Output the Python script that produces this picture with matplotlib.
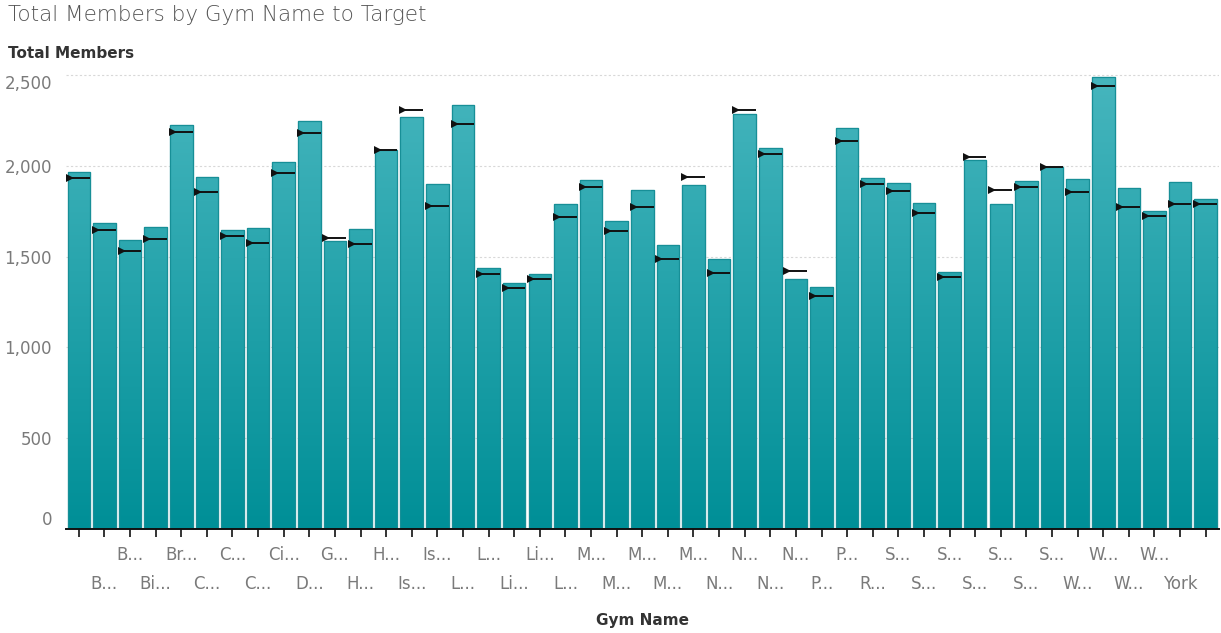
import numpy as np
import matplotlib
matplotlib.use("Agg")
import matplotlib.pyplot as plt
from matplotlib.colors import LinearSegmentedColormap

labels = ["", "B...", "B...", "Bi...", "Br...", "C...", "C...", "C...", "Ci...", "D...",
          "G...", "H...", "H...", "Is...", "Is...", "L...", "L...", "Li...", "Li...", "L...",
          "M...", "M...", "M...", "M...", "M...", "N...", "N...", "N...", "N...", "P...",
          "P...", "R...", "S...", "S...", "S...", "S...", "S...", "S...", "S...", "W...",
          "W...", "W...", "W...", "York", ""]
members = [1968, 1688, 1592, 1666, 2226, 1938, 1647, 1658, 2022, 2250,
           1587, 1653, 2088, 2272, 1899, 2336, 1440, 1357, 1407, 1788,
           1921, 1699, 1870, 1563, 1896, 1486, 2287, 2101, 1376, 1335,
           2211, 1936, 1905, 1796, 1418, 2033, 1788, 1919, 1996, 1928,
           2492, 1880, 1752, 1914, 1818]
targets = [1932, 1647, 1532, 1598, 2186, 1859, 1616, 1578, 1963, 2180,
           1603, 1572, 2090, 2309, 1781, 2230, 1407, 1326, 1377, 1717,
           1886, 1642, 1776, 1486, 1939, 1409, 2310, 2066, 1421, 1284,
           2138, 1901, 1864, 1739, 1390, 2050, 1868, 1886, 1996, 1859,
           2442, 1772, 1726, 1791, 1791]
yticks = [0, 500, 1000, 1500, 2000, 2500]
ytick_labels = ["0", "500", "1,000", "1,500", "2,000", "2,500"]

W, H = 1221, 633
fig = plt.figure(figsize=(W / 100, H / 100), dpi=100)
ax = fig.add_axes([66 / W, 1 - 529 / H, (1218.5 - 66) / W, (529 - 71.5) / H])

x = np.arange(len(members))
ymax = 2520
bw = 0.88
bars = ax.bar(x, members, width=bw, color="#1fa2aa", edgecolor="#178f97",
              linewidth=0.8, zorder=2)

cmap = LinearSegmentedColormap.from_list("teal", ["#008f97", "#47b6be"])
grad = np.linspace(0, 1, 256).reshape(-1, 1)
for b in bars:
    x0 = b.get_x()
    im = ax.imshow(grad, cmap=cmap, aspect="auto", origin="lower",
                   extent=(x0, x0 + b.get_width(), 0, ymax), zorder=2.1,
                   vmin=0, vmax=1, interpolation="bilinear")
    im.set_clip_path(b)
    ax.bar(b.get_x() + b.get_width() / 2, b.get_height(), width=b.get_width(),
           fill=False, edgecolor="#178f97", linewidth=0.9, zorder=2.2)

# targets
ax.hlines(targets, x - bw / 2, x + bw / 2, color="#111111", linewidth=1.4, zorder=3)
ax.plot(x - bw / 2 + 0.11, targets, linestyle="none", marker=">", markersize=5.5,
        color="#111111", markeredgewidth=0, zorder=3.1)

ax.set_xlim(-0.5, len(members) - 0.5)
ax.set_ylim(0, ymax)

for yv in yticks[1:]:
    ax.axhline(yv, color="#d8d8d8", linewidth=0.8, linestyle=(0, (2, 2)), zorder=1)

for s in ["top", "right", "left"]:
    ax.spines[s].set_visible(False)
ax.spines["bottom"].set_color("#111111")
ax.spines["bottom"].set_linewidth(1.4)
ax.spines["bottom"].set_zorder(4)

ax.set_yticks(yticks)
ax.set_yticklabels(ytick_labels)
ax.tick_params(axis="y", length=0, pad=10, labelsize=12, labelcolor="#7a7a7a")
tl = ax.get_yticklabels()
tl[0].set_va("bottom")
tl[-1].set_va("top")

ax.set_xticks(x)
xt = [lab if i % 2 == 1 else "" for i, lab in enumerate(labels)]
ax.set_xticklabels(xt)
ax.tick_params(axis="x", length=6, width=1.2, color="#111111", pad=4,
               labelsize=12, labelcolor="#7a7a7a")
for i, lab in enumerate(labels):
    if i % 2 == 0 and lab:
        ax.annotate(lab, xy=(i, 0), xycoords=("data", "axes fraction"),
                    xytext=(0, -19), textcoords="offset points",
                    ha="center", va="center", fontsize=12, color="#7a7a7a")
for t in ax.get_xticklabels():
    t.set_y(-0.07)

fig.text(8 / W, 1 - 15 / H, "Total Members by Gym Name to Target", fontsize=15.5,
         color="#555555", ha="left", va="center", fontweight="light")
fig.text(8 / W, 1 - 54 / H, "Total Members", fontsize=11, color="#333333",
         ha="left", va="center", fontweight="bold")
fig.text(642 / W, 1 - 620 / H, "Gym Name", fontsize=11, color="#333333",
         ha="center", va="center", fontweight="bold")

fig.savefig("out.png", dpi=100, facecolor="white")
